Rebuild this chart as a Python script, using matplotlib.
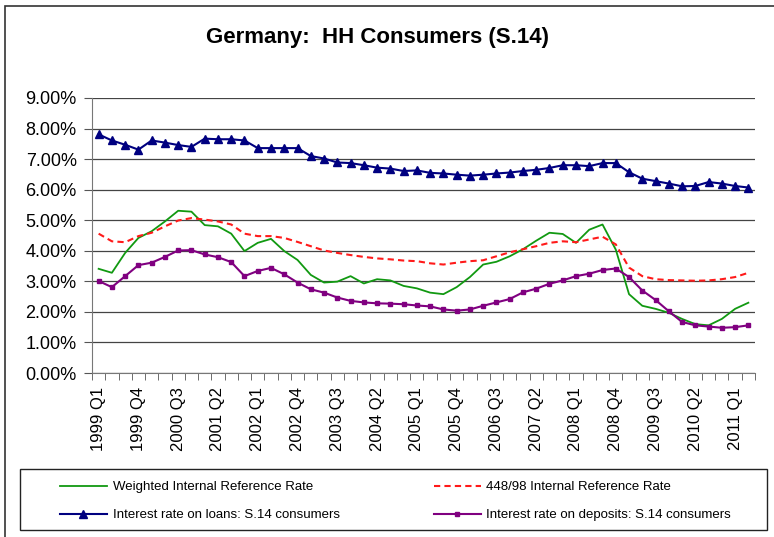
import matplotlib
matplotlib.use("Agg")
import matplotlib.pyplot as plt
from matplotlib.patches import Rectangle
from matplotlib.ticker import FixedLocator, FuncFormatter
import numpy as np

plt.rcParams['font.family'] = ['Liberation Sans', 'DejaVu Sans']

# quarterly categories 1999 Q1 .. 2011 Q2
quarters = [f"{y} Q{q}" for y in range(1999, 2012) for q in range(1, 5)][:50]

weighted_rate = [3.41, 3.28, 3.93, 4.42, 4.64, 4.96, 5.31, 5.28, 4.84, 4.80,
                 4.56, 3.99, 4.26, 4.39, 3.99, 3.70, 3.21, 2.96, 2.99, 3.17,
                 2.93, 3.07, 3.03, 2.85, 2.77, 2.63, 2.58, 2.81, 3.14, 3.55,
                 3.64, 3.82, 4.05, 4.33, 4.59, 4.55, 4.26, 4.69, 4.86, 4.04,
                 2.58, 2.20, 2.10, 1.97, 1.77, 1.60, 1.56, 1.77, 2.10, 2.30]
ref_rate_44898 = [4.56, 4.31, 4.28, 4.48, 4.59, 4.80, 4.99, 5.07, 5.02, 4.96,
                  4.86, 4.56, 4.48, 4.48, 4.42, 4.29, 4.15, 4.01, 3.93, 3.86,
                  3.80, 3.75, 3.72, 3.68, 3.66, 3.59, 3.55, 3.61, 3.66, 3.69,
                  3.82, 3.95, 4.05, 4.15, 4.26, 4.31, 4.28, 4.37, 4.46, 4.21,
                  3.45, 3.17, 3.07, 3.04, 3.03, 3.02, 3.03, 3.07, 3.14, 3.28]
loans_rate = [7.81, 7.61, 7.47, 7.31, 7.61, 7.54, 7.46, 7.40, 7.67, 7.65,
              7.65, 7.61, 7.36, 7.36, 7.36, 7.36, 7.10, 7.02, 6.89, 6.87,
              6.80, 6.72, 6.69, 6.61, 6.63, 6.55, 6.53, 6.49, 6.46, 6.49,
              6.53, 6.56, 6.61, 6.65, 6.71, 6.80, 6.80, 6.77, 6.87, 6.87,
              6.57, 6.36, 6.28, 6.20, 6.11, 6.12, 6.25, 6.20, 6.12, 6.07]
deposits_rate = [3.01, 2.81, 3.17, 3.53, 3.61, 3.80, 4.01, 4.02, 3.88, 3.79,
                 3.63, 3.17, 3.34, 3.44, 3.23, 2.96, 2.74, 2.63, 2.47, 2.36,
                 2.31, 2.28, 2.27, 2.25, 2.21, 2.18, 2.08, 2.04, 2.08, 2.20,
                 2.31, 2.42, 2.64, 2.76, 2.92, 3.03, 3.17, 3.25, 3.37, 3.42,
                 3.14, 2.70, 2.39, 2.02, 1.67, 1.56, 1.52, 1.48, 1.50, 1.56]

W, H = 774, 537
fig = plt.figure(figsize=(W / 100, H / 100), dpi=100)

# outer chart frame (cut off at right/bottom like the original)
fig.patches.append(Rectangle((5 / W, -0.05), 2, 1 - 6 / H + 0.05, transform=fig.transFigure,
                             fill=False, edgecolor='#333333', linewidth=1.2))

ax = fig.add_axes([92 / W, 1 - 373 / H, (755 - 92) / W, (373 - 98) / H])
x = np.arange(len(quarters))

l1, = ax.plot(x, weighted_rate, color='#119911', linewidth=1.3, label="Weighted Internal Reference Rate")
l2, = ax.plot(x, ref_rate_44898, color='#ff1a1a', linewidth=1.5, linestyle=(0, (3, 2)),
              label="448/98 Internal Reference Rate")
l3, = ax.plot(x, loans_rate, color='#000080', linewidth=1.5, marker='^', markersize=5.5,
              label="Interest rate on loans: S.14 consumers")
l4, = ax.plot(x, deposits_rate, color='#800080', linewidth=1.5, marker='s', markersize=3,
              label="Interest rate on deposits: S.14 consumers")

ax.set_xlim(-0.5, len(quarters) - 0.5)
ax.set_ylim(0, 9)
ax.set_yticks(np.arange(0, 10, 1))
ax.yaxis.set_major_formatter(FuncFormatter(lambda v, p: f"{v:.2f}%"))
ax.grid(axis='y', color='#444444', linewidth=0.9)
ax.set_axisbelow(True)

ax.set_xticks(x[::3])
ax.set_xticklabels(quarters[::3], rotation=90, fontsize=12)
ax.xaxis.set_minor_locator(FixedLocator(np.arange(-0.5, len(quarters), 1)))
ax.tick_params(axis='x', which='major', length=0, pad=10)
ax.tick_params(axis='x', which='minor', length=5, color='#555555')
ax.tick_params(axis='y', length=6, color='#555555', labelsize=13, pad=5)

for s in ['top', 'right']:
    ax.spines[s].set_visible(False)
for s in ['left', 'bottom']:
    ax.spines[s].set_color('#777777')

fig.text(0.488, 1 - 38 / H, "Germany:  HH Consumers (S.14)", ha='center', va='center',
         fontsize=16, fontweight='bold')

# legend box
fig.patches.append(Rectangle((20 / W, 1 - 530 / H), 747 / W, 61 / H, transform=fig.transFigure,
                             fill=False, edgecolor='#222222', linewidth=1.0))
fig.legend([l1, l3, l2, l4], [h.get_label() for h in [l1, l3, l2, l4]], ncol=2, frameon=False,
           loc='upper left', bbox_to_anchor=(60 / W, 1 - 481 / H), fontsize=9.5,
           handlelength=3.56, handletextpad=0.45, columnspacing=7.1, labelspacing=1.2,
           borderpad=0, borderaxespad=0)

fig.savefig("out.png", dpi=100)
